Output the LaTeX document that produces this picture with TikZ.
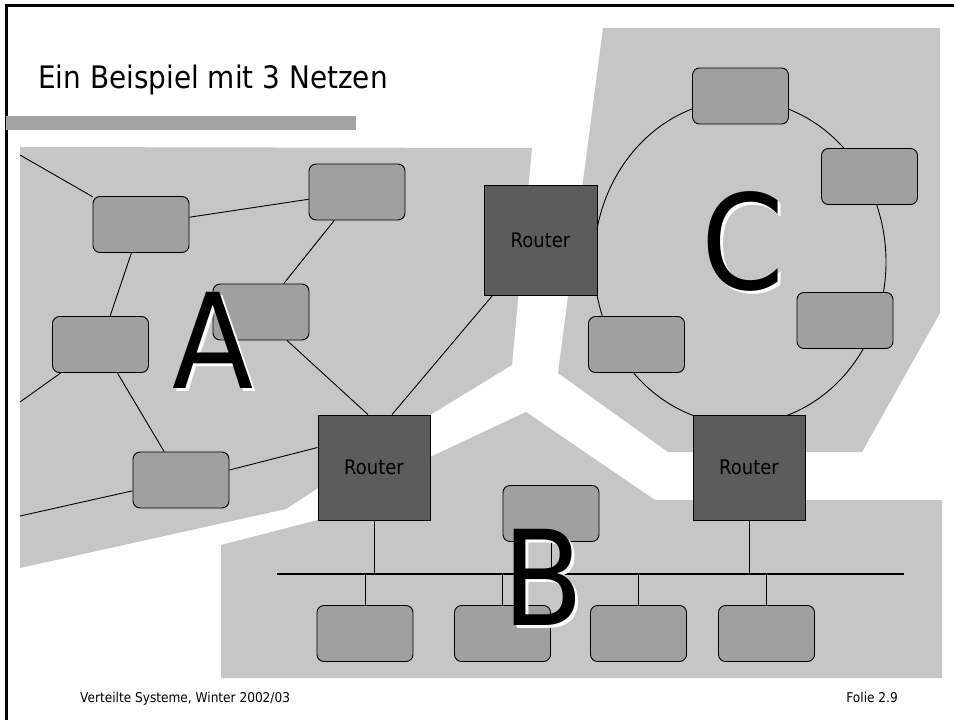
\documentclass[tikz,border=0pt]{standalone}
\usepackage{fontspec}
\setmainfont{DejaVu Sans}[FakeStretch=0.9]
\usetikzlibrary{calc}
\definecolor{regiongray}{HTML}{C6C6C6}
\definecolor{bargray}{HTML}{A4A4A4}
\definecolor{boxgray}{HTML}{A0A0A0}
\definecolor{routergray}{HTML}{5C5C5C}
\newcommand{\shadowletter}[1]{\rlap{\kern3pt\raisebox{-3pt}{\textcolor{white}{#1}}}#1}
\tikzset{
  region/.style={fill=regiongray, draw=none},
  hostbox/.style={draw=black, line width=0.9pt, fill=boxgray, rounded corners=7pt,
    minimum width=96pt, minimum height=56pt, inner sep=0pt},
  routerbox/.style={draw=black, line width=0.9pt, fill=routergray,
    minimum width=112pt, minimum height=105pt, inner sep=0pt,
    font=\fontsize{20}{22}\selectfont},
  link/.style={draw=black, line width=0.9pt},
  bigletter/.style={font=\fontsize{132}{140}\selectfont, anchor=base, inner sep=0pt},
  smalltext/.style={font=\fontsize{13.5}{16}\selectfont, inner sep=0pt},
}
\begin{document}
\begin{tikzpicture}[x=1pt,y=-1pt]
\useasboundingbox (0,0) rectangle (954,720);
\fill[white] (0,0) rectangle (954,720);
% frame and title
\draw[line width=3pt] (6.5,720) -- (6.5,5) -- (954,5);
\node[anchor=base west, inner sep=0pt, font=\fontsize{31}{36}\selectfont] (title) at (38,88) {Ein Beispiel mit 3 Netzen};
\fill[bargray] (6,116) rectangle (356,130);
% regions
\fill[region] (20,147) -- (532,148) -- (512,365) -- (430,415) -- (286,509) -- (20,568) -- cycle;
\fill[region] (221,545) -- (318,520) -- (430,457) -- (526,412) -- (655,500) -- (942,500) -- (942,678) -- (221,678) -- cycle;
\fill[region] (603,28) -- (940,28) -- (940,313) -- (862,452) -- (668,452) -- (558,373) -- cycle;
% ring of C
\draw[link] (740,262) ellipse [x radius=146pt, y radius=162pt];
% routers
\node[routerbox, minimum width=113pt, minimum height=110pt] (rtop) at (540.5,240) {Router};
\node[routerbox] (rA) at (374,467.5) {Router};
\node[routerbox] (rC) at (749,467.5) {Router};
% hosts A
\node[hostbox] (n1) at (141,224.5) {};
\node[hostbox] (n2) at (357,192) {};
\node[hostbox] (n3) at (261,312) {};
\node[hostbox] (n4) at (100.5,344.5) {};
\node[hostbox] (n5) at (181,480) {};
% hosts C
\node[hostbox] (c1) at (740.5,96) {};
\node[hostbox] (c2) at (869.5,176.5) {};
\node[hostbox] (c3) at (845,320.5) {};
\node[hostbox] (c4) at (636.5,344.5) {};
% hosts B
\node[hostbox] (bu) at (551,513.5) {};
\node[hostbox] (b1) at (365,633.5) {};
\node[hostbox] (b2) at (502.5,633.5) {};
\node[hostbox] (b3) at (638.5,633.5) {};
\node[hostbox] (b4) at (766.5,633.5) {};
% free ends
\coordinate (e1) at (20,155);
\coordinate (e2) at (20,402);
\coordinate (e3) at (20,516);
\coordinate (busL) at (277,574);
\coordinate (busR) at (904,574);
% links of A
\draw[link] (e1) -- (n1);
\draw[link] (n1) -- (n2);
\draw[link] (n1) -- (n4);
\draw[link] (n2) -- (n3);
\draw[link] ($(n3.south)+(26,0)$) -- ($(rA.north)+(-6,0)$);
\draw[link] ($(rtop.south west)+(9,0)$) -- ($(rA.north)+(18,0)$);
\draw[link] (n4) -- (e2);
\draw[link] (n4) -- (n5);
\draw[link] ($(n5.east)+(0,-10)$) -- ($(rA.west)+(0,-20)$);
\draw[link] (n5) -- (e3);
% bus of B
\draw[line width=2.6pt] (busL) -- (busR);
\draw[link] (rA.south) -- (rA.south |- busL);
\draw[link] (rC.south) -- (rC.south |- busL);
\draw[link] (bu.south) -- (bu.south |- busL);
\draw[link] (b1.north) -- (b1.north |- busL);
\draw[link] (b2.north) -- (b2.north |- busL);
\draw[link] (b3.north) -- (b3.north |- busL);
\draw[link] (b4.north) -- (b4.north |- busL);
% big letters with white shadow
\node[bigletter] (Alabel) at (213,388) {\shadowletter{A}};
\node[bigletter] (Blabel) at (543,625) {\shadowletter{B}};
\node[bigletter] (Clabel) at (743,289) {\shadowletter{C}};
% footer
\node[smalltext, anchor=base west] (foot) at (80,702) {Verteilte Systeme, Winter 2002/03};
\node[smalltext, anchor=base east] (folie) at (898,702) {Folie 2.9};
\end{tikzpicture}
\end{document}
